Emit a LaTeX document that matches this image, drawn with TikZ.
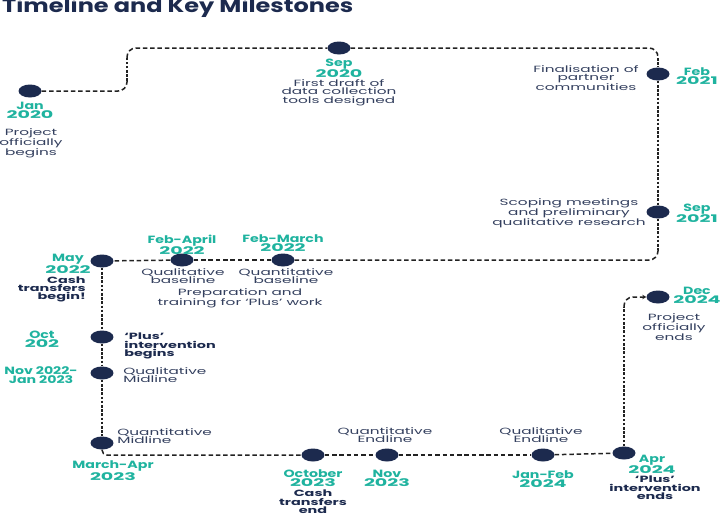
\documentclass[tikz,border=0pt]{standalone}
\usepackage{graphicx}
\usepackage{fontspec}
\setmainfont{Poppins}
\usetikzlibrary{shapes.geometric,arrows.meta}
\definecolor{navy}{HTML}{1C2A4E}
\definecolor{tealc}{HTML}{1FB39F}
\definecolor{desctext}{HTML}{34405F}
\definecolor{linec}{HTML}{222222}
\newcommand\yr[1]{\scalebox{1.35}[1]{#1}}
\begin{document}
\begin{tikzpicture}[x=1pt,y=-1pt,
 mdot/.style={ellipse, fill=navy, minimum width=23pt, minimum height=13pt, inner sep=0pt},
 mdate/.style={font=\bfseries\fontsize{10.5}{9}\selectfont, text=tealc, align=center, inner sep=0pt, xscale=1.35, anchor=north},
 mdesc/.style={font=\fontsize{9}{8.5}\selectfont, text=desctext, align=center, inner sep=0pt, xscale=1.7, anchor=north},
 mbold/.style={font=\bfseries\fontsize{9}{8.2}\selectfont, text=navy, align=center, inner sep=0pt, xscale=1.6, anchor=north},
 hdash/.style={draw=linec, line width=1.5pt, dash pattern=on 4.5pt off 2.8pt, rounded corners=9pt},
 vdash/.style={draw=linec, line width=1.5pt, dash pattern=on 2.6pt off 1.6pt, rounded corners=9pt},
]
\fill[white] (0,0) rectangle (721,515);
\useasboundingbox (0,0) rectangle (721,515);

% title
\node[anchor=base west, inner sep=0pt, text=navy, font=\bfseries\fontsize{19}{19}\selectfont] (title) at (2,12.5) {\resizebox{351pt}{\height}{Timeline and Key Milestones}};

% milestone dots
\node[mdot] (j20) at (30,91) {};
\node[mdot] (s20) at (339,48) {};
\node[mdot] (f21) at (658,74) {};
\node[mdot] (s21) at (658,212) {};
\node[mdot] (m22) at (102,261) {};
\node[mdot] (fa22) at (182,260) {};
\node[mdot] (fm22) at (283,260) {};
\node[mdot] (o22) at (102,337) {};
\node[mdot] (n22) at (102,373) {};
\node[mdot] (ma23) at (102,443) {};
\node[mdot] (o23) at (313,455) {};
\node[mdot] (n23) at (387,455) {};
\node[mdot] (jf24) at (543,455) {};
\node[mdot] (a24) at (624,453) {};
\node[mdot] (d24) at (658,297) {};

% corner coordinates
\coordinate (c1) at (127,91);
\coordinate (c1b) at (127,81);
\coordinate (c2b) at (127,58);
\coordinate (c2) at (127,48);
\coordinate (c3) at (658,48);
\coordinate (c3b) at (658,58);
\coordinate (c4a) at (658,250);
\coordinate (c4) at (658,260);
\coordinate (c5) at (102,455);
\coordinate (c6b) at (624,307);
\coordinate (c6) at (624,297);

% connectors
\path[hdash] (j20) -- (c1) -- (c1b);
\path[vdash] (c1b) -- (c2b);
\path[hdash] (c2b) -- (c2) -- (s20);
\path[hdash] (s20) -- (c3) -- (c3b);
\path[vdash] (c3b) -- (f21);
\path[vdash] (f21) -- (s21);
\path[vdash] (s21) -- (c4a);
\path[hdash] (c4a) -- (c4) -- (fm22);
\path[hdash] (fm22) -- (fa22);
\path[hdash] (fa22) -- (m22);
\path[vdash] (m22) -- (o22);
\path[vdash] (o22) -- (n22);
\path[vdash] (n22) -- (ma23);
\path[hdash, rounded corners=5pt] (ma23) -- (c5) -- (o23);
\path[hdash] (o23) -- (n23);
\path[hdash] (n23) -- (jf24);
\path[hdash] (jf24) -- (a24);
\path[vdash] (a24) -- (c6b);
\path[hdash, -{Stealth[length=4pt,width=4.5pt]}] (c6b) -- (c6) -- (d24);

% labels
\node[mdate] (l1) at (30,102) {Jan\\\yr{2020}};
\node[mdesc] (t1) at (31,128.5) {Project\\officially\\begins};
\node[mdate] (l2) at (339,58.5) {Sep\\\yr{2020}};
\node[mdesc] (t2) at (339,79) {First draft of\\data collection\\tools designed};
\node[mdate] (l3) at (697,67.5) {Feb\\\yr{2021}};
\node[mdesc] (t3) at (586,65) {Finalisation of\\partner\\communities};
\node[mdate] (l4) at (697,203.5) {Sep\\\yr{2021}};
\node[mdesc] (t4) at (569,198) {Scoping meetings\\and preliminary\\qualitative research};
\node[mdate] (l5) at (68,254) {May\\\yr{2022}};
\node[mbold, anchor=north east, align=right] (t5) at (86,276.5) {Cash\\transfers\\begin!};
\node[mdate] (l6) at (182,234.5) {Feb-April\\\yr{2022}};
\node[mdesc] (t6) at (183,268) {Qualitative\\baseline};
\node[mdate] (l7) at (283,234.5) {Feb-March\\\yr{2022}};
\node[mdesc] (t7) at (286,268) {Quantitative\\baseline};
\node[mdesc] (t7b) at (240,288) {Preparation and\\training for ‘Plus’ work};
\node[mdate] (l8) at (42,330.5) {Oct\\\yr{202}};
\node[mbold, anchor=north west, align=left] (t8) at (124,333) {‘Plus’\\intervention\\begins};
\node[mdate] (l9) at (41,366.5) {Nov 2022-\\Jan 2023};
\node[mdesc, anchor=north west, align=left] (t9) at (123,367) {Qualitative\\Midline};
\node[mdesc, anchor=north west, align=left] (t10) at (117,428) {Quantitative\\Midline};
\node[mdate] (l10) at (113,460.5) {March-Apr\\\yr{2023}};
\node[mdate] (l11) at (313,469.5) {October\\\yr{2023}};
\node[mbold] (t11) at (313,490) {Cash\\transfers\\end};
\node[mdesc] (t12) at (385,427) {Quantitative\\Endline};
\node[mdate] (l12) at (387,469.5) {Nov\\\yr{2023}};
\node[mdesc] (t13) at (541,427) {Qualitative\\Endline};
\node[mdate] (l13) at (543,470.5) {Jan-Feb\\\yr{2024}};
\node[mdate] (l14) at (652,454.5) {Apr\\\yr{2024}};
\node[mbold] (t14) at (655,476) {‘Plus’\\intervention\\ends};
\node[mdate] (l15) at (697,286.5) {Dec\\\yr{2024}};
\node[mdesc] (t15) at (674,313) {Project\\officially\\ends};
\end{tikzpicture}
\end{document}
